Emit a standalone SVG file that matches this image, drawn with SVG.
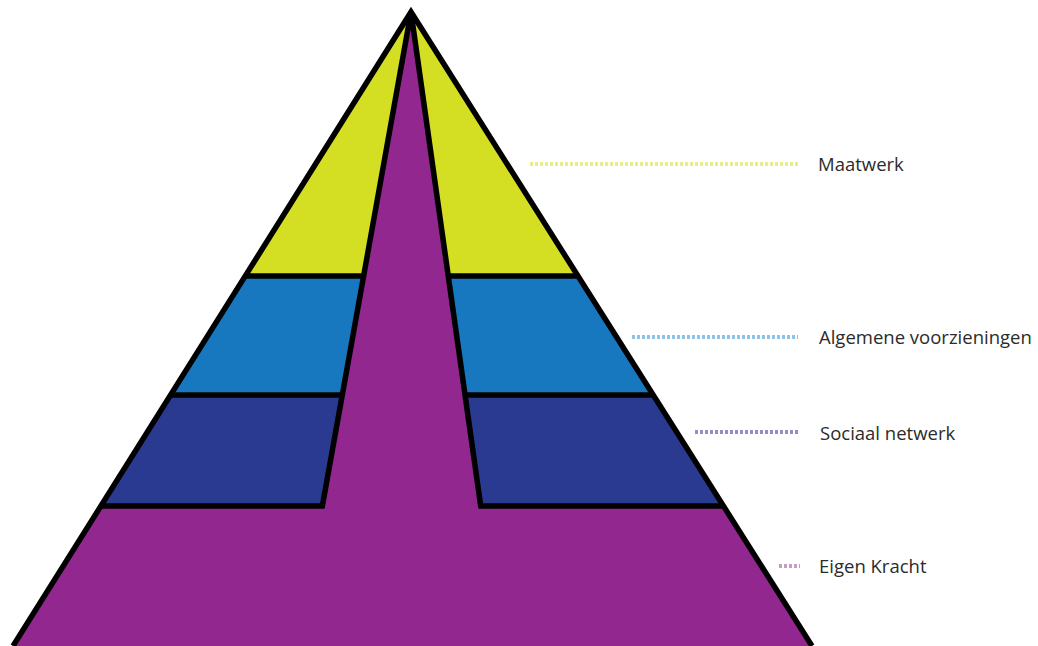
<svg xmlns="http://www.w3.org/2000/svg" width="1038" height="646" viewBox="0 0 1038 646">
<style>
.edge{fill:none;stroke:#000;stroke-width:5.5;stroke-linejoin:miter;stroke-linecap:butt}
.lbl{font-family:"Open Sans","Noto Sans",sans-serif;font-size:18.5px;fill:#2b2b2b}
.dot{fill:none;stroke-width:4;stroke-dasharray:3 2}
</style>
<rect width="1038" height="646" fill="#fff"/>
<g id="pyramid">
<g id="maatwerk-band"><polygon points="411,12 245,276 578,276" fill="#d4de22"/></g>
<g id="algemene-band"><polygon points="245,276 578,276 653,395 171,395" fill="#1777bf"/></g>
<g id="sociaal-band"><polygon points="171,395 653,395 723,506 101,506" fill="#293a90"/></g>
<g id="eigen-kracht-band"><polygon points="101,506 723,506 812,646 13,646" fill="#92278f"/></g>
<g id="eigen-kracht-spine"><polygon points="411,12 322,506 481,506" fill="#92278f"/></g>
</g>
<g id="connectors">
<polyline class="edge" points="13,646 411,12 812,646"/>
<line class="edge" x1="245" y1="276" x2="364" y2="276"/>
<line class="edge" x1="448" y1="276" x2="578" y2="276"/>
<line class="edge" x1="171" y1="395" x2="343" y2="395"/>
<line class="edge" x1="464" y1="395" x2="653" y2="395"/>
<line class="edge" x1="101" y1="506" x2="324" y2="506"/>
<line class="edge" x1="479" y1="506" x2="723" y2="506"/>
<polyline class="edge" points="322,508 411,12 481,508"/>
<line class="dot" x1="530" y1="164" x2="800" y2="164" stroke="#e6ee8c"/>
<line class="dot" x1="632" y1="337" x2="798" y2="337" stroke="#8fc3e6"/>
<line class="dot" x1="695" y1="432" x2="800" y2="432" stroke="#9090c6"/>
<line class="dot" x1="779" y1="566" x2="800" y2="566" stroke="#c89ac6"/>
</g>
<g id="labels">
<text class="lbl" x="818" y="171">Maatwerk</text>
<text class="lbl" x="819" y="344">Algemene voorzieningen</text>
<text class="lbl" x="820" y="440">Sociaal netwerk</text>
<text class="lbl" x="819" y="573">Eigen Kracht</text>
</g>
</svg>
